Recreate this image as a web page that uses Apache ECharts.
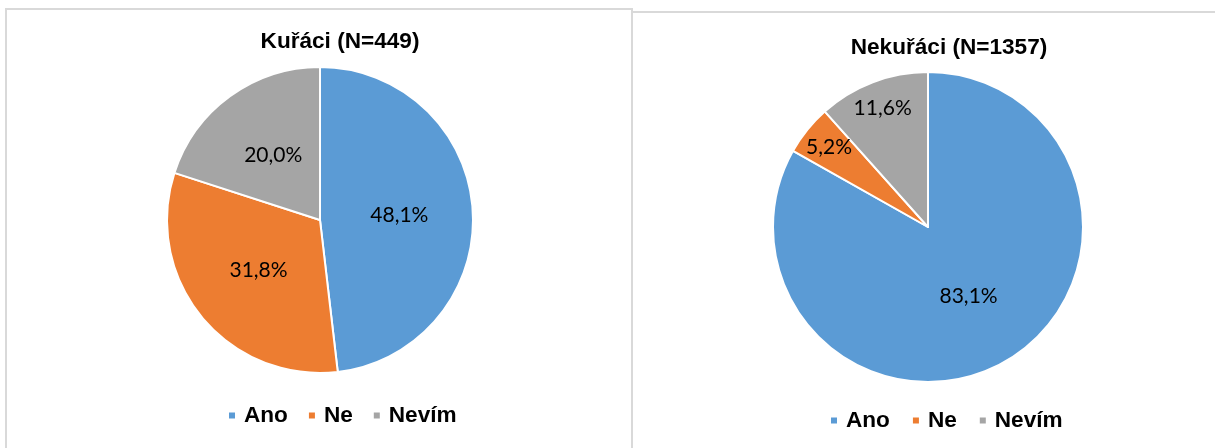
<!DOCTYPE html>
<html>
<head>
<meta charset="utf-8">
<script src="https://cdn.jsdelivr.net/npm/echarts@6/dist/echarts.min.js"></script>
<style>
html,body{margin:0;padding:0;background:#fff;width:1215px;height:448px;overflow:hidden;}
.panel{position:absolute;border:2px solid #d9d9d9;box-sizing:border-box;}
#p1{left:5px;top:8px;width:628px;height:460px;}
#p2{left:631px;top:11px;width:600px;height:460px;}
#chart{position:absolute;left:0;top:0;width:1215px;height:448px;}
</style>
</head>
<body>
<div class="panel" id="p1"></div>
<div class="panel" id="p2"></div>
<div id="chart"></div>
<script>
const categories = ['Ano', 'Ne', 'Nevím'];
const smokersValues = [48.1, 31.8, 20.0];
const nonSmokersValues = [83.1, 5.2, 11.6];
const chartTitles = ['Kuřáci (N=449)', 'Nekuřáci (N=1357)'];
const colors = ['#5B9BD5', '#ED7D31', '#A5A5A5'];

const fmt = p => p.value.toFixed(1).replace('.', ',') + '%';
const labelStyle = {fontFamily: 'Lato', fontSize: 21, color: '#000'};

function mkData(vals, showIdx) {
  return categories.map((c, i) => ({
    name: c, value: vals[i],
    label: {show: showIdx.indexOf(i) >= 0}
  }));
}

const chart = echarts.init(document.getElementById('chart'), null, {renderer: 'canvas'});
const titleText = {fontFamily: 'Liberation Sans', fontWeight: 'bold', fontSize: 22.6, color: '#000'};
const legendBase = {
  orient: 'horizontal', icon: 'rect', itemWidth: 8, itemHeight: 8,
  textStyle: {fontFamily: 'Liberation Sans', fontWeight: 'bold', fontSize: 22.6, color: '#000', padding: [0, 0, 0, 3]},
  data: categories, selectedMode: false, padding: 0
};
chart.setOption({
  color: colors,
  animation: false,
  title: [
    {text: chartTitles[0], left: 340, top: 30, textAlign: 'center', padding: 0, textStyle: titleText},
    {text: chartTitles[1], left: 949, top: 36, textAlign: 'center', padding: 0, textStyle: titleText}
  ],
  legend: [
    Object.assign({}, legendBase, {left: 227, top: 404, itemGap: 19}),
    Object.assign({}, legendBase, {left: 829, top: 409, itemGap: 21})
  ],
  series: [
    {
      type: 'pie', center: [320, 220], radius: [0, 153], startAngle: 90, clockwise: true,
      silent: true,
      itemStyle: {borderColor: '#fff', borderWidth: 2},
      label: Object.assign({position: 'inside', formatter: fmt}, labelStyle),
      labelLine: {show: false},
      data: mkData(smokersValues, [0, 1, 2])
    },
    {
      type: 'pie', center: [928, 227], radius: [0, 155], startAngle: 90, clockwise: true,
      silent: true,
      itemStyle: {borderColor: '#fff', borderWidth: 2},
      label: Object.assign({position: 'inside', formatter: fmt}, labelStyle),
      labelLine: {show: false},
      data: mkData(nonSmokersValues, [0])
    },
    {
      type: 'pie', center: [928, 227], radius: [93, 155], startAngle: 90, clockwise: true,
      silent: true,
      itemStyle: {color: 'rgba(0,0,0,0)', borderWidth: 0},
      label: Object.assign({position: 'inside', formatter: fmt}, labelStyle),
      labelLine: {show: false},
      data: mkData(nonSmokersValues, [1, 2])
    }
  ]
});
</script>
</body>
</html>
